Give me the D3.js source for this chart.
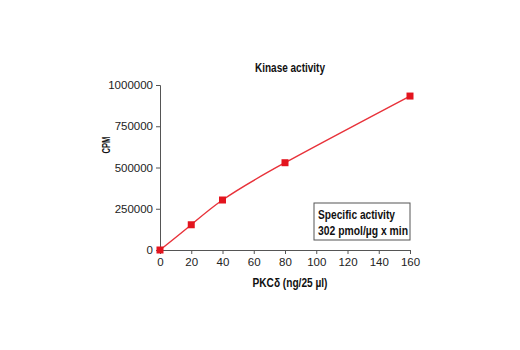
<!DOCTYPE html>
<html><head><meta charset="utf-8">
<script src="https://cdn.jsdelivr.net/npm/d3@7"></script>
<style>body{margin:0;background:#fff}</style>
</head><body>
<script>
const doses = [0, 20, 40, 80, 160];
const cpm = [0, 153000, 303000, 529000, 933000];
const xTicks = [0, 20, 40, 60, 80, 100, 120, 140, 160];
const yTicks = [0, 250000, 500000, 750000, 1000000];
const title = "Kinase activity";
const xLabel = "PKCδ (ng/25 µl)";
const yLabel = "CPM";
const boxLines = ["Specific activity", "302 pmol/µg x min"];

const W = 520, H = 350;
const font = "'Liberation Sans', Arial, sans-serif";
const svg = d3.select("body").append("svg").attr("width", W).attr("height", H);
const x = d3.scaleLinear().domain([0, 160]).range([160, 410]);
const y = d3.scaleLinear().domain([0, 1000000]).range([250, 85]);

const xa = svg.append("g").attr("transform", "translate(0,250)")
  .call(d3.axisBottom(x).tickValues(xTicks).tickSize(4).tickPadding(4));
const ya = svg.append("g").attr("transform", "translate(160,0)")
  .call(d3.axisLeft(y).tickValues(yTicks).tickSize(4).tickPadding(3).tickFormat(d3.format("d")));
[xa, ya].forEach(a => {
  a.select(".domain").attr("stroke", "#555");
  a.selectAll(".tick line").attr("stroke", "#555");
  a.selectAll("text").attr("font-family", font).attr("font-size", 11.5).attr("fill", "#222");
});

const line = d3.line().x((d, i) => x(doses[i])).y(d => y(d)).curve(d3.curveNatural);
svg.append("path").attr("d", line(cpm)).attr("fill", "none").attr("stroke", "#e8323a").attr("stroke-width", 1.4);
svg.selectAll("rect.pt").data(cpm).enter().append("rect").attr("class", "pt")
  .attr("x", (d, i) => x(doses[i]) - 3.5).attr("y", d => y(d) - 3.5)
  .attr("width", 7).attr("height", 7).attr("fill", "#e3141e");

function label(t, xx, yy, len, size, anchor, rot) {
  const el = svg.append("text").attr("font-family", font).attr("font-weight", "bold")
    .attr("font-size", size).attr("text-anchor", anchor || "start")
    .attr("textLength", len).attr("lengthAdjust", "spacingAndGlyphs").attr("fill", "#111").text(t);
  if (rot) el.attr("transform", `translate(${xx},${yy}) rotate(-90)`);
  else el.attr("x", xx).attr("y", yy);
}
label(title, 290, 72, 70, 12, "middle");
label(xLabel, 290, 287, 75, 12, "middle");
label(yLabel, 110, 145, 17, 10.5, "middle", true);

svg.append("rect").attr("x", 314).attr("y", 203).attr("width", 96).attr("height", 37)
  .attr("fill", "#fff").attr("stroke", "#555").attr("stroke-width", 1);
label(boxLines[0], 318, 219, 77, 12);
label(boxLines[1], 318, 235, 90, 12);
</script>
</body></html>
